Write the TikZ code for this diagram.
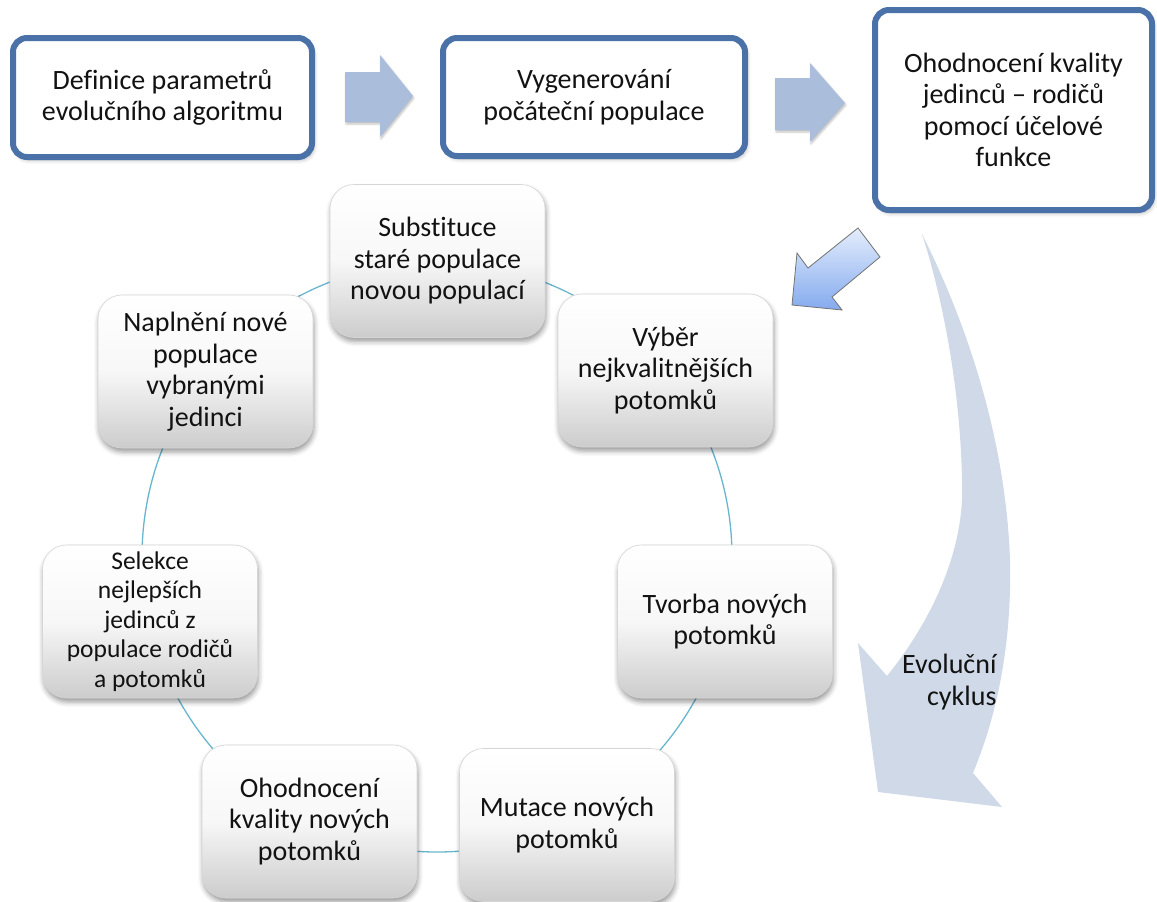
\documentclass[tikz,border=0pt]{standalone}
\usepackage{fontspec}
\setmainfont{Carlito}[Ligatures={NoCommon,NoRequired,NoContextual}]
\usetikzlibrary{shadows.blur}

\definecolor{frameblue}{RGB}{74,114,168}
\definecolor{stepgray}{RGB}{170,189,219}
\definecolor{cyclefill}{RGB}{208,217,232}
\definecolor{ringline}{RGB}{104,182,206}
\definecolor{txt}{RGB}{18,18,18}
\definecolor{diagtop}{RGB}{228,237,252}
\definecolor{diagbot}{RGB}{132,170,238}

\begin{document}
\begin{tikzpicture}[x=1pt,y=-1pt,
  every node/.style={text=txt},
  bigfont/.style={font=\fontsize{28}{31.5}\selectfont},
  smallfont/.style={font=\fontsize{25.5}{29.5}\selectfont},
  topbox/.style={draw=frameblue, line width=6pt, rounded corners=14pt,
    fill=white, align=center, inner sep=0pt, bigfont,
    blur shadow={shadow xshift=2pt, shadow yshift=-3pt,
      shadow blur radius=4pt, shadow opacity=30}},
  cycbox/.style={draw=black!16, line width=0.6pt, rounded corners=24pt,
    top color=white, bottom color=black!20, middle color=black!3,
    align=center, inner sep=0pt, minimum width=215pt, minimum height=153pt,
    bigfont,
    blur shadow={shadow xshift=1pt, shadow yshift=-4pt,
      shadow blur radius=5pt, shadow opacity=40}},
  steparrow/.style={fill=stepgray,
    blur shadow={shadow xshift=1pt, shadow yshift=-2pt,
      shadow blur radius=2pt, shadow opacity=25}},
  ring/.style={draw=ringline, line width=1.3pt},
]
\useasboundingbox (0,0) rectangle (1157,902);

% evolution-cycle sweep on the right
\fill[cyclefill] (922,234)
  .. controls (955,300) and (1005,420) .. (1010,560)
  .. controls (1012,650) and (995,720) .. (973,773)
  -- (1002,807) -- (878,792) -- (858,643) -- (887,676)
  .. controls (940,610) and (965,540) .. (962,480)
  .. controls (960,380) and (940,290) .. (922,234) -- cycle;
\node[bigfont, align=right, anchor=east] (cyc) at (1000,682) {Evoluční\\cyklus};

% ring joining the steps of the cycle
\coordinate (ringc) at (437,557);
\draw[ring] (ringc) circle[radius=295];

% initial steps
\node[topbox, minimum width=299pt, minimum height=119pt] (def) at (162.5,97.5)
  {Definice parametrů\\evolučního algoritmu};
\node[topbox, minimum width=302pt, minimum height=118pt] (gen) at (594,97)
  {Vygenerování\\počáteční populace};
\node[topbox, minimum width=277pt, minimum height=200pt] (eval) at (1013.5,110)
  {Ohodnocení kvality\\jedinců – rodičů\\pomocí účelové\\funkce};

% block arrows between the initial steps
\path[steparrow] (345,72) -- (380,72) -- (380,55) -- (413,96) -- (380,137)
  -- (380,122) -- (345,122) -- cycle;
\path[steparrow] (775,78) -- (810,78) -- (810,63) -- (845,103) -- (810,142)
  -- (810,130) -- (775,130) -- cycle;

% arrow entering the cycle
\shade[top color=diagtop, bottom color=diagbot, draw=black!55, line width=0.8pt,
  line join=miter]
  (858,228) -- (808,268) -- (797,253) -- (792,305) -- (842,310)
  -- (832,297) -- (880,257) -- cycle;

% steps of the cycle
\node[cycbox] (subst) at (437.5,261) {Substituce\\staré populace\\novou populací};
\node[cycbox] (vyber) at (665.5,370.5) {Výběr\\nejkvalitnějších\\potomků};
\node[cycbox] (tvorba) at (725,621.5) {Tvorba nových\\potomků};
\node[cycbox] (mutace) at (567,825) {Mutace nových\\potomků};
\node[cycbox] (ohod) at (309.5,821.5) {Ohodnocení\\kvality nových\\potomků};
\node[cycbox, smallfont] (selekce) at (150,621.5)
  {Selekce\\nejlepších\\jedinců z\\populace rodičů\\a potomků};
\node[cycbox] (napl) at (205.5,371.5) {Naplnění nové\\populace\\vybranými\\jedinci};

\end{tikzpicture}
\end{document}
